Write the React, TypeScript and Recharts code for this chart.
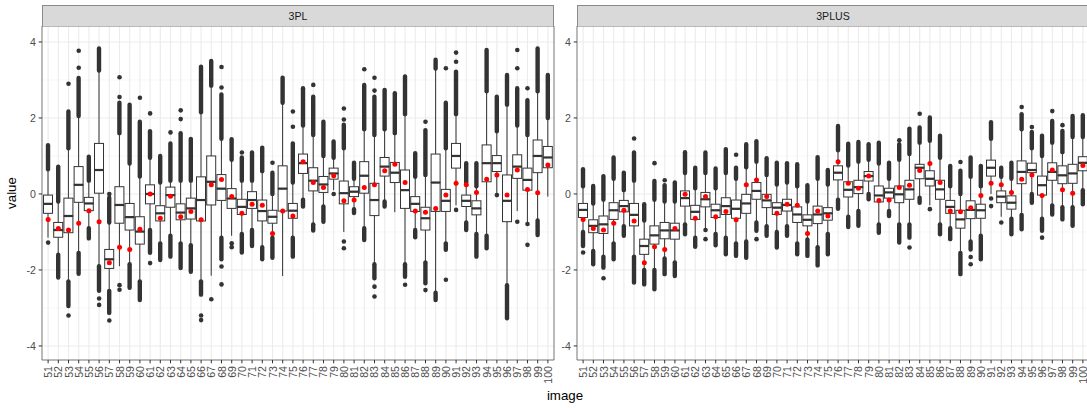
import React from 'react'
import { ComposedChart, Bar, Scatter, XAxis, YAxis, CartesianGrid, ReferenceArea } from 'recharts'

const images = [
  '51', '52', '53', '54', '55', '56', '57', '58', '59', '60',
  '61', '62', '63', '64', '65', '66', '67', '68', '69', '70',
  '71', '72', '73', '74', '75', '76', '77', '78', '79', '80',
  '81', '82', '83', '84', '85', '86', '87', '88', '89', '90',
  '91', '92', '93', '94', '95', '96', '97', '98', '99', '100',
]

const yTicks = [-4, -2, 0, 2, 4]
const yMinorTicks = [-3, -1, 1, 3]

// 3PL panel
const plLo = [-1.15, -1.6, -2.3, -1.55, -0.9, -1.9, -2.55, -1.9, -1.85, -2.3, -0.95, -1.3, -1.1, -1.3, -1.35, -2.3, -2.15, -1.15, -1.1, -1.05, -0.95, -1.4, -1.15, -2.16, -1.15, -0.15, -0.8, -0.33, 0.1, -1.0, -0.4, -0.9, -1.85, -0.2, -0.48, -1.85, -0.95, -1.8, -2.6, -1.3, -0.3, -0.75, -1.05, -1.1, 0.0, -2.4, -0.45, -0.75, -0.7, -0.07]
const plQ1 = [-0.51, -1.14, -1.02, -0.22, -0.44, 0.02, -1.96, -0.77, -0.95, -1.32, -0.26, -0.71, -0.35, -0.68, -0.66, -0.71, -0.29, -0.17, -0.38, -0.54, -0.38, -0.71, -0.77, -0.45, -0.64, 0.54, 0.08, 0.04, 0.39, -0.26, -0.07, 0.02, -0.57, 0.47, 0.3, -0.38, -0.46, -0.95, -0.46, -0.46, 0.68, -0.33, -0.55, 0.32, 0.59, -0.73, 0.41, 0.1, 0.56, 0.69]
const plMed = [-0.26, -0.95, -0.58, 0.24, -0.25, 0.63, -1.72, -0.29, -0.61, -0.99, 0.0, -0.51, -0.03, -0.49, -0.38, -0.16, 0.32, 0.14, -0.12, -0.34, -0.16, -0.45, -0.6, 0.14, -0.44, 0.81, 0.35, 0.25, 0.54, 0.02, 0.06, 0.48, -0.16, 0.72, 0.56, 0.1, -0.26, -0.64, 0.3, -0.18, 1.0, -0.18, -0.38, 0.81, 0.81, -0.18, 0.72, 0.37, 1.0, 0.96]
const plQ3 = [-0.03, -0.75, -0.11, 0.72, -0.09, 1.33, -1.46, 0.19, -0.25, -0.6, 0.24, -0.31, 0.18, -0.26, -0.11, 0.45, 1.0, 0.51, 0.14, -0.14, 0.06, -0.16, -0.43, 0.74, -0.25, 1.05, 0.69, 0.46, 0.68, 0.34, 0.19, 0.85, 0.28, 0.96, 0.83, 0.63, -0.07, -0.35, 1.05, 0.12, 1.33, -0.03, -0.18, 1.29, 1.01, 0.5, 1.03, 0.68, 1.42, 1.25]
const plHi = [0.65, -0.2, 1.2, 2.05, 0.35, 3.25, -0.75, 1.6, 0.8, 0.46, 0.95, 0.3, 0.35, 0.35, 0.35, 2.15, 2.85, 1.45, 0.9, 0.35, 0.35, 0.6, 0.0, 2.4, 0.3, 1.8, 1.55, 1.0, 0.95, 1.2, 0.4, 1.7, 1.55, 1.7, 1.6, 2.1, 0.45, 0.5, 3.3, 1.2, 2.1, 0.3, 0.2, 2.7, 1.65, 2.35, 1.8, 1.55, 2.7, 2.0]
const plMean = [-0.67, -0.91, -0.95, -0.77, -0.44, -0.73, -1.81, -1.4, -1.46, -0.93, 0.0, -0.64, -0.06, -0.6, -0.46, -0.68, 0.24, 0.38, -0.07, -0.51, -0.27, -0.3, -1.04, -0.45, -0.58, 0.85, 0.3, 0.17, 0.48, -0.18, -0.16, 0.17, 0.24, 0.61, 0.78, 0.3, -0.45, -0.48, -0.38, -0.03, 0.28, 0.24, 0.04, 0.39, 0.5, -0.03, 0.63, 0.12, 0.03, 0.76]
// end of the dense run of outliers above / below the whiskers (null = none)
const plRunHi = [1.28, 0.72, 2.17, 3.05, 0.98, 3.83, -0.1, 2.4, 2.35, 1.9, 1.65, 1.0, 1.33, 1.6, 1.45, 3.35, 3.5, 2.62, 1.44, 0.96, 1.09, 1.22, 0.56, 3.06, 1.33, 2.78, 2.56, 1.9, 1.38, 1.82, 0.82, 2.87, 2.56, 2.74, 2.65, 3.09, 1.07, 1.68, 3.53, 2.4, 3.22, 0.81, 0.81, 3.79, 2.56, 3.13, 2.78, 2.47, 3.83, 3.13]
const plRunLo = [null, -2.2, -2.95, -2.1, -1.17, -2.55, -3.13, null, -2.47, -2.79, -1.55, -1.74, -1.65, -1.95, -2.05, -2.65, null, -1.72, null, -1.54, -1.37, -1.72, -1.68, null, -1.65, -0.33, -0.96, -0.73, null, null, -0.5, -1.21, -2.22, -0.33, null, -2.18, -1.14, -2.35, -2.79, -1.47, null, -0.95, -1.65, -1.43, null, -3.27, null, null, -1.08, null]
// isolated outliers
const plExtra = [
  [-1.28], [], [2.9, -3.2], [3.32, 3.77], [], [-2.75, -2.92], [0.0, -3.33], [2.55, 3.07, -2.4, -2.52], [], [2.53],
  [2.12, -1.82], [], [1.62], [1.97, 2.2], [], [-3.2, -3.32], [-2.77], [2.8, 3.34, -1.91, -2.38], [-1.3, -1.4], [1.09],
  [], [], [0.82], [], [1.77, 2.17], [], [2.87], [], [0.0], [1.96, 2.25, -1.25, -1.43],
  [], [3.28], [2.72, 3.06, -2.44, -2.7], [], [], [-2.39], [], [1.9, -2.53], [], [3.31, -2.26],
  [3.48, 3.72, -0.42], [], [], [], [-0.03], [], [3.31, 3.79, -0.73], [2.78, -0.79, -1.34], [], [],
]

// 3PLUS panel
const psLo = [-1.0, -1.5, -1.65, -1.3, -0.85, -1.65, -2.0, -2.0, -1.7, -1.8, -0.8, -1.15, -0.9, -1.05, -1.15, -1.3, -1.25, -0.75, -0.85, -1.0, -0.85, -1.3, -1.2, -1.4, -1.05, -0.15, -0.6, -0.45, 0.0, -0.8, -0.45, -0.8, -0.8, -0.1, -0.3, -0.8, -0.9, -1.55, -1.25, -1.1, 0.0, -0.6, -0.65, -0.55, 0.0, -0.65, -0.3, -0.35, -0.35, 0.1]
const psQ1 = [-0.62, -1.02, -1.04, -0.67, -0.47, -0.84, -1.59, -1.32, -1.18, -1.19, -0.32, -0.67, -0.34, -0.62, -0.54, -0.64, -0.51, -0.14, -0.36, -0.54, -0.45, -0.75, -0.84, -0.78, -0.69, 0.37, -0.08, 0.01, 0.34, -0.21, -0.11, -0.23, -0.14, 0.4, 0.21, -0.14, -0.51, -0.9, -0.65, -0.64, 0.47, -0.23, -0.4, 0.27, 0.56, -0.03, 0.36, 0.27, 0.28, 0.61]
const psMed = [-0.42, -0.84, -0.8, -0.43, -0.32, -0.55, -1.37, -1.09, -0.96, -0.96, -0.11, -0.47, -0.14, -0.43, -0.32, -0.39, -0.25, 0.08, -0.17, -0.36, -0.29, -0.54, -0.68, -0.54, -0.51, 0.56, 0.11, 0.18, 0.47, -0.04, 0.04, -0.01, 0.12, 0.69, 0.4, 0.12, -0.34, -0.67, -0.42, -0.43, 0.69, -0.07, -0.23, 0.58, 0.63, 0.23, 0.58, 0.49, 0.54, 0.82]
const psQ3 = [-0.25, -0.68, -0.58, -0.23, -0.17, -0.25, -1.19, -0.84, -0.75, -0.77, 0.08, -0.3, 0.04, -0.27, -0.1, -0.16, -0.01, 0.3, -0.01, -0.23, -0.14, -0.34, -0.55, -0.32, -0.36, 0.74, 0.32, 0.36, 0.59, 0.21, 0.15, 0.21, 0.36, 0.78, 0.61, 0.36, -0.17, -0.43, -0.18, -0.27, 0.89, 0.08, -0.05, 0.87, 0.81, 0.47, 0.82, 0.74, 0.78, 0.98]
const psHi = [0.2, -0.25, -0.15, 0.4, 0.1, 0.35, -0.7, -0.15, -0.2, -0.2, 0.55, 0.15, 0.55, 0.15, 0.55, 0.4, 0.7, 0.85, 0.5, 0.25, 0.3, 0.2, -0.2, 0.4, 0.25, 1.15, 0.75, 0.85, 0.9, 0.8, 0.4, 0.9, 1.05, 1.35, 1.4, 0.95, 0.2, 0.0, 0.45, 0.2, 1.45, 0.45, 0.4, 1.7, 1.2, 1.0, 1.35, 1.1, 1.5, 1.5]
const psMean = [-0.67, -0.91, -0.95, -0.77, -0.43, -0.71, -1.81, -1.39, -1.46, -0.91, -0.01, -0.64, -0.07, -0.6, -0.46, -0.68, 0.24, 0.37, -0.07, -0.51, -0.27, -0.3, -1.04, -0.45, -0.58, 0.85, 0.28, 0.15, 0.47, -0.17, -0.16, 0.17, 0.23, 0.62, 0.8, 0.3, -0.45, -0.47, -0.36, -0.04, 0.28, 0.24, 0.04, 0.39, 0.5, -0.04, 0.63, 0.11, 0.02, 0.75]
const psRunHi = [0.65, 0.21, 0.47, 0.96, 0.56, 1.09, -0.27, 0.34, 0.23, 0.3, 1.1, 0.69, 1.09, 0.67, 1.18, 0.69, 1.31, 1.39, 0.94, 0.82, 0.81, 0.78, 0.23, 0.97, 0.63, 1.79, 1.32, 1.37, 1.31, 1.35, 0.82, 1.31, 1.72, 1.75, 2.01, 1.53, 0.74, 0.61, 0.96, 0.74, 1.89, 0.69, 0.82, 2.1, 1.63, 1.53, 1.92, 1.66, 2.05, 2.07]
const psRunLo = [-1.37, -1.85, -1.94, -1.72, -1.1, -2.33, -2.38, -2.51, -2.11, -2.16, -1.06, -1.39, null, -1.35, -1.59, -1.63, -1.68, -0.97, -1.1, -1.41, -1.1, -1.59, -1.63, -1.88, -1.59, -0.39, -0.87, -0.84, -0.14, -1.02, -0.58, -1.28, -1.15, -0.23, null, -1.06, -1.19, -2.11, -1.46, -1.72, null, null, -1.06, -0.93, -0.23, -0.97, -0.54, -0.67, -0.84, -0.27]
const psExtra = [
  [-1.54], [], [-2.22], [], [], [1.46], [], [0.81], [0.36], [],
  [], [], [-0.95, -1.19], [], [], [1.03], [], [-1.19], [], [],
  [], [], [], [], [], [], [], [], [], [],
  [], [1.41], [-1.41], [2.11], [-0.4], [], [], [0.84], [-1.66, -1.85], [],
  [-0.12, -0.32], [-0.75], [], [2.29], [1.76], [-1.15], [2.18], [1.81], [], [],
]

const Y_DOMAIN: [number, number] = [-4.37, 4.42]
const INK = '#333333'
const FONT = '"Liberation Sans", Arial, sans-serif'

function buildRows(lo: number[], q1: number[], med: number[], q3: number[], hi: number[],
  mean: number[], runHi: (number | null)[], runLo: (number | null)[], extra: number[][]) {
  return images.map((image, i) => ({
    image,
    idx: i + 1,
    whisker: [lo[i], hi[i]],
    boxLow: [q1[i], med[i]],
    boxHigh: [med[i], q3[i]],
    runUp: runHi[i] == null ? null : [hi[i], runHi[i]],
    runDown: runLo[i] == null ? null : [runLo[i], lo[i]],
    mean: mean[i],
    ex0: extra[i][0] ?? null,
    ex1: extra[i][1] ?? null,
    ex2: extra[i][2] ?? null,
    ex3: extra[i][3] ?? null,
  }))
}

const plRows = buildRows(plLo, plQ1, plMed, plQ3, plHi, plMean, plRunHi, plRunLo, plExtra)
const psRows = buildRows(psLo, psQ1, psMed, psQ3, psHi, psMean, psRunHi, psRunLo, psExtra)

function span(p: any) {
  const top = Math.min(p.y, p.y + p.height)
  const bottom = Math.max(p.y, p.y + p.height)
  return { top, bottom, cx: p.x + p.width / 2 }
}

function WhiskerShape(p: any) {
  if (!isFinite(p.y) || !isFinite(p.height)) return <g />
  const { top, bottom, cx } = span(p)
  return <line x1={cx} x2={cx} y1={top} y2={bottom} stroke={INK} strokeWidth={1} />
}

function runShape(key: string) {
  return (p: any) => {
    if (p.payload == null || p.payload[key] == null || !isFinite(p.y)) return <g />
    const { top, bottom, cx } = span(p)
    return <line x1={cx} x2={cx} y1={top} y2={bottom} stroke={INK} strokeWidth={4.4} strokeLinecap="round" />
  }
}

function BoxLowShape(p: any) {
  const { top, bottom } = span(p)
  return <rect x={p.x} y={top} width={p.width} height={bottom - top} fill="#fff" stroke={INK} strokeWidth={1} />
}

function BoxHighShape(p: any) {
  const { top, bottom } = span(p)
  return (
    <g>
      <rect x={p.x} y={top} width={p.width} height={bottom - top} fill="#fff" stroke={INK} strokeWidth={1} />
      <line x1={p.x} x2={p.x + p.width} y1={bottom} y2={bottom} stroke={INK} strokeWidth={2.2} />
    </g>
  )
}

function dotShape(key: string, fill: string, r: number) {
  return (p: any) => {
    if (p.payload == null || p.payload[key] == null) return <g />
    return <circle cx={p.cx} cy={p.cy} r={r} fill={fill} />
  }
}

function XTick(props: any) {
  const { x, y, payload } = props
  return (
    <text transform={`translate(${x},${y}) rotate(-90)`} textAnchor="end" dominantBaseline="central"
      fontSize={10.6} fill="#4D4D4D" fontFamily={FONT}>
      {images[payload.value - 1]}
    </text>
  )
}

function YTick(props: any) {
  const { x, y, payload } = props
  return (
    <text x={x} y={y} textAnchor="end" dominantBaseline="central" fontSize={10.6} fill="#4D4D4D" fontFamily={FONT}>
      {payload.value}
    </text>
  )
}

const hiddenAxes = ['wh', 'ru', 'rl', 'bl', 'bh']

function Panel({ rows, title, left, width, yAxisWidth, marginRight }: any) {
  const plotLeft = left + yAxisWidth
  const plotWidth = width - yAxisWidth - marginRight
  return (
    <>
      <div style={{ position: 'absolute', left, top: 0 }}>
        <ComposedChart width={width} height={408} data={rows} barCategoryGap="5%"
          margin={{ top: 26, right: marginRight, bottom: 0, left: 0 }}>
          <XAxis xAxisId="n" dataKey="idx" type="number" orientation="bottom" domain={[0.4, 50.6]} allowDataOverflow
            ticks={rows.map((r: any) => r.idx)} interval={0} height={48} axisLine={false}
            tickLine={{ stroke: INK }} tickSize={3.3} tickMargin={2.7} tick={<XTick />} />
          {hiddenAxes.map((id) => (
            <XAxis key={id} xAxisId={id} dataKey="image" type="category" orientation="top" height={0} hide
              padding={{ left: 1, right: 1 }} />
          ))}
          <YAxis domain={Y_DOMAIN} allowDataOverflow ticks={yTicks} width={yAxisWidth} axisLine={false}
            tickLine={{ stroke: INK }} tickSize={3.3} tickMargin={2.7} tick={<YTick />} />
          <YAxis yAxisId="minor" domain={Y_DOMAIN} allowDataOverflow ticks={yMinorTicks} orientation="right" width={0} hide />
          <CartesianGrid xAxisId="n" yAxisId="minor" vertical={false} stroke="#F3F3F3" strokeWidth={0.7} />
          <CartesianGrid xAxisId="n" stroke="#EBEBEB" strokeWidth={1.1} />
          <Bar xAxisId="wh" dataKey="whisker" shape={WhiskerShape} isAnimationActive={false} />
          <Bar xAxisId="ru" dataKey="runUp" shape={runShape('runUp')} isAnimationActive={false} />
          <Bar xAxisId="rl" dataKey="runDown" shape={runShape('runDown')} isAnimationActive={false} />
          <Bar xAxisId="bl" dataKey="boxLow" shape={BoxLowShape} isAnimationActive={false} />
          <Bar xAxisId="bh" dataKey="boxHigh" shape={BoxHighShape} isAnimationActive={false} />
          {['ex0', 'ex1', 'ex2', 'ex3'].map((k) => (
            <Scatter key={k} xAxisId="n" dataKey={k} shape={dotShape(k, INK, 2.3)} isAnimationActive={false} />
          ))}
          <Scatter xAxisId="n" dataKey="mean" shape={dotShape('mean', '#FF0000', 2.5)} isAnimationActive={false} />
          <ReferenceArea xAxisId="n" x1={0.4} x2={50.6} y1={Y_DOMAIN[0]} y2={Y_DOMAIN[1]}
            fill="none" stroke={INK} strokeWidth={0.6} fillOpacity={0} />
        </ComposedChart>
      </div>
      <div style={{
        position: 'absolute', left: plotLeft, top: 5, width: plotWidth, height: 21, boxSizing: 'border-box',
        background: '#D9D9D9', border: '1px solid #8a8a8a', borderBottom: 'none', textAlign: 'center',
        fontSize: 10.6, lineHeight: '20px', color: '#1A1A1A', fontFamily: FONT,
      }}>{title}</div>
    </>
  )
}

export default function App() {
  return (
    <div style={{ position: 'absolute', left: 0, top: 0, width: 1087, height: 408, overflow: 'hidden', background: '#fff', fontFamily: FONT }}>
      <Panel rows={plRows} title="3PL" left={0} width={560} yAxisWidth={42} marginRight={6} />
      <Panel rows={psRows} title="3PLUS" left={553} width={536} yAxisWidth={24} marginRight={0} />
      <div style={{ position: 'absolute', left: 515, top: 388, width: 100, textAlign: 'center', fontSize: 13.3, lineHeight: '16px', color: '#000' }}>image</div>
      <div style={{ position: 'absolute', left: -38, top: 185, width: 100, textAlign: 'center', fontSize: 13.3, lineHeight: '16px', color: '#000', transform: 'rotate(-90deg)' }}>value</div>
    </div>
  )
}
